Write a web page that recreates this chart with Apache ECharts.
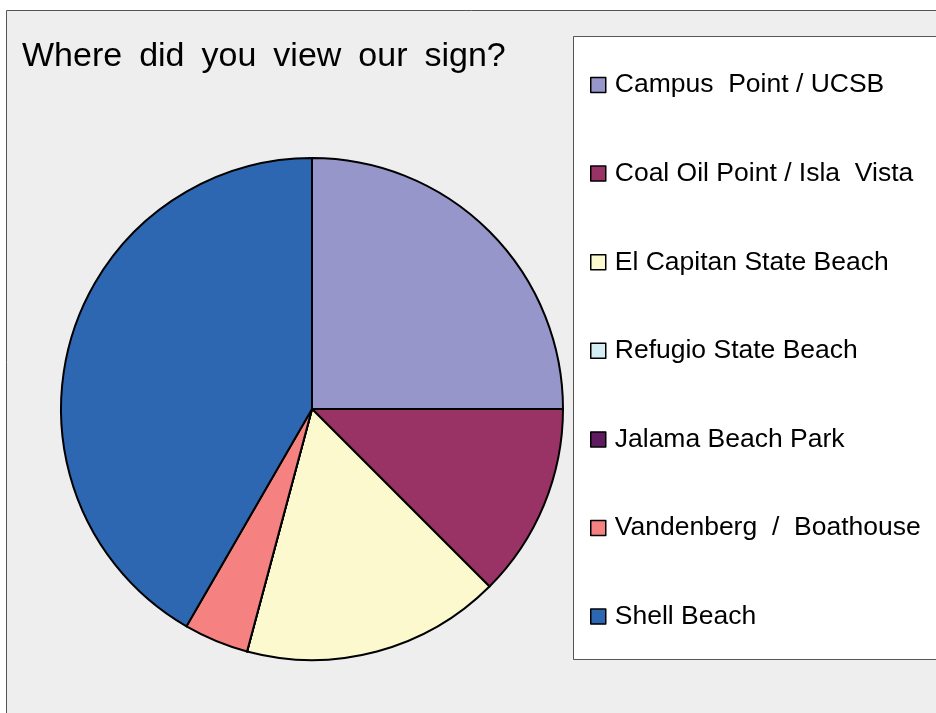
<!DOCTYPE html>
<html>
<head>
<meta charset="utf-8">
<script src="https://cdn.jsdelivr.net/npm/echarts@6/dist/echarts.min.js"></script>
<style>
html,body{margin:0;padding:0;background:#fff;}
#c{width:936px;height:713px;}
</style>
</head>
<body>
<div id="c"></div>
<script>
var titleWords = ["Where", "did", "you", "view", "our", "sign?"];
var categories = [
  "Campus  Point / UCSB",
  "Coal Oil Point / Isla  Vista",
  "El Capitan State Beach",
  "Refugio State Beach",
  "Jalama Beach Park",
  "Vandenberg  /  Boathouse",
  "Shell Beach"
];
var values = [6, 3, 4, 0, 0, 1, 10];
var colors = ["#9696CA", "#993366", "#FCF9CE", "#D5EEF4", "#5F1B60", "#F58181", "#2E67B1"];

var chart = echarts.init(document.getElementById('c'), null, {renderer: 'canvas'});
var data = categories.map(function (n, i) {
  return {name: n, value: values[i], itemStyle: {color: colors[i]}};
});
chart.setOption({
  backgroundColor: '#ffffff',
  animation: false,
  title: {
    text: titleWords.join('{s| }'),
    left: 17,
    top: 35,
    textStyle: {
      fontFamily: 'Liberation Sans', fontSize: 34, fontWeight: 'normal', color: '#000',
      rich: {s: {width: 17, fontSize: 34, fontFamily: 'Liberation Sans'}}
    }
  },
  graphic: [
    {type: 'rect', z: -10, shape: {x: 6.5, y: 10.5, width: 1000, height: 1000},
     style: {fill: '#EEEEEE', stroke: '#555555', lineWidth: 1}},
    {type: 'rect', z: -9, shape: {x: 573.5, y: 36.5, width: 500, height: 623},
     style: {fill: '#FFFFFF', stroke: '#555555', lineWidth: 1}}
  ],
  legend: {
    orient: 'vertical',
    left: 585,
    top: 65,
    itemGap: 58.6,
    itemWidth: 15,
    itemHeight: 15,
    icon: 'rect',
    selectedMode: false,
    itemStyle: {borderColor: '#000', borderWidth: 1.5},
    textStyle: {fontFamily: 'Liberation Sans', fontSize: 26.5, color: '#000', lineHeight: 30, padding: [0, 0, 0, 4]},
    data: categories
  },
  series: [{
    type: 'pie',
    center: [312, 409],
    radius: 251,
    startAngle: 90,
    clockwise: true,
    avoidLabelOverlap: false,
    label: {show: false},
    labelLine: {show: false},
    emphasis: {disabled: true},
    itemStyle: {borderColor: '#000', borderWidth: 2},
    data: data
  }]
});
</script>
</body>
</html>
